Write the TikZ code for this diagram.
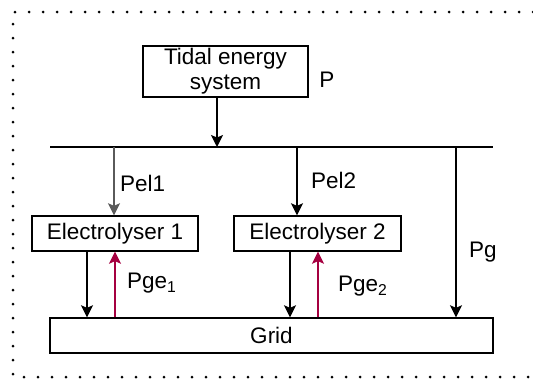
\documentclass[tikz,border=0pt]{standalone}
\usepackage{fontspec}
\setmainfont{Liberation Sans}
\usetikzlibrary{arrows.meta}
\definecolor{redarr}{RGB}{165,0,64}
\definecolor{grayarr}{RGB}{90,90,90}
\tikzset{
  box/.style={draw, line width=1.4pt, inner sep=0pt, font=\fontsize{22.5}{25}\selectfont, align=center},
  lbl/.style={font=\fontsize{22.5}{25}\selectfont, inner sep=0pt},
  arr/.style={line width=1.4pt, -{Stealth[length=12pt,width=12pt,inset=2.5pt]}},
  redline/.style={line width=1.4pt, draw=redarr, -{Stealth[length=12pt,width=12pt,inset=2.5pt,fill=redarr]}},
  dotted border/.style={line width=3pt, line cap=round, dash pattern=on 0pt off 14pt}
}
\begin{document}
\begin{tikzpicture}[x=1pt,y=-1pt]
\useasboundingbox (0,0) rectangle (533,388);
% dotted frame
\draw[dotted border] (533,12) -- (13,12) -- (13,377) -- (533,377);
% nodes
\node[box, minimum width=165pt, minimum height=51pt] (tidal) at (225.5,71.5) {Tidal energy\\system};
\node[lbl] (P) at (327,80) {P};
\node[box, minimum width=166pt, minimum height=35pt] (el1) at (115,233.5) {Electrolyser 1};
\node[box, minimum width=167pt, minimum height=35pt] (el2) at (317.5,233.5) {Electrolyser 2};
\node[box, minimum width=443pt, minimum height=35pt] (grid) at (271.5,335.5) {Grid};
% bus
\coordinate (busL) at (50,147);
\coordinate (busR) at (493,147);
\draw[line width=1.4pt] (busL) -- (busR);
\coordinate (b0) at (217,147);
\coordinate (b1) at (114,147);
\coordinate (b2) at (297,147);
\coordinate (b3) at (456,147);
\draw[arr] (tidal.south -| b0) -- (b0);
\draw[arr, draw=grayarr] (b1) -- (b1 |- el1.north);
\draw[arr] (b2) -- (b2 |- el2.north);
\draw[arr] (b3) -- (b3 |- grid.north);
% labels
\node[lbl, anchor=west] (pel1) at (120,183) {Pel1};
\node[lbl, anchor=west] (pel2) at (311,180) {Pel2};
\node[lbl, anchor=west] (pg) at (469,252) {Pg};
\node[lbl, anchor=west] (pge1) at (127,283) {Pge\textsubscript{1}};
\node[lbl, anchor=west] (pge2) at (338,286) {Pge\textsubscript{2}};
% electrolyser to grid
\coordinate (d1) at (87,0);
\coordinate (u1) at (115,0);
\coordinate (d2) at (290,0);
\coordinate (u2) at (318,0);
\draw[arr] (el1.south -| d1) -- (grid.north -| d1);
\draw[redline] (grid.north -| u1) -- (el1.south -| u1);
\draw[arr] (el2.south -| d2) -- (grid.north -| d2);
\draw[redline] (grid.north -| u2) -- (el2.south -| u2);
\end{tikzpicture}
\end{document}
